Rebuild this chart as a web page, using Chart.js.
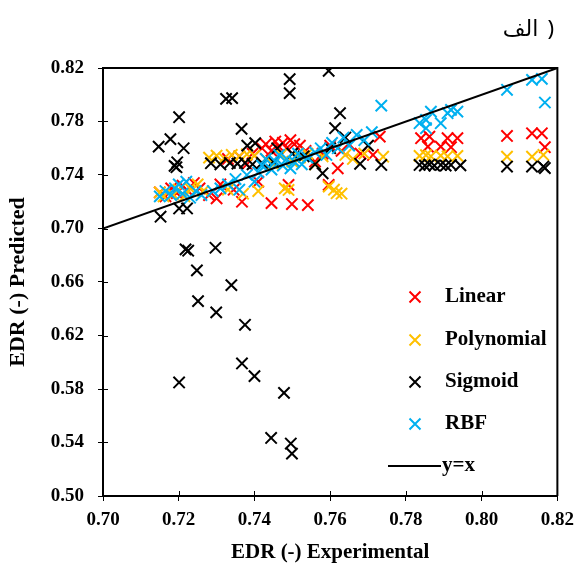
<!DOCTYPE html>
<html>
<head>
<meta charset="utf-8">
<script src="https://cdn.jsdelivr.net/npm/chart.js@4"></script>
<style>
  body { margin: 0; background: #fff; }
  #wrap { width: 582px; height: 565px; }
</style>
</head>
<body>
<div id="wrap"><canvas id="edrChart"></canvas></div>
<script>
// series names + colours (legend order)
var seriesNames = ['Linear', 'Polynomial', 'Sigmoid', 'RBF'];
var seriesColors = ['#FF0000', '#FFC000', '#000000', '#00B0F0'];

// [experimental, predicted]
var linearPts = [
  [0.7150,0.7270],[0.7165,0.7240],[0.7180,0.7300],[0.7195,0.7265],[0.7210,0.7320],[0.7225,0.7280],[0.7240,0.7340],[0.7255,0.7300],
  [0.7280,0.7250],[0.7300,0.7225],[0.7310,0.7330],[0.7330,0.7520],[0.7345,0.7290],[0.7360,0.7540],[0.7367,0.7200],[0.7380,0.7480],[0.7395,0.7560],[0.7410,0.7350],
  [0.7420,0.7600],[0.7430,0.7630],[0.7445,0.7580],[0.7455,0.7650],[0.7465,0.7610],[0.7475,0.7640],[0.7485,0.7600],[0.7495,0.7660],[0.7505,0.7630],[0.7520,0.7620],[0.7535,0.7580],
  [0.7445,0.7190],[0.7499,0.7183],[0.7541,0.7175],[0.7490,0.7326],[0.7596,0.7326],
  [0.7560,0.7500],[0.7580,0.7560],[0.7600,0.7620],[0.7620,0.7450],[0.7630,0.7580],[0.7650,0.7630],[0.7680,0.7560],[0.7713,0.7550],[0.7731,0.7687],
  [0.7840,0.7675],[0.7858,0.7612],[0.7862,0.7687],[0.7892,0.7612],[0.7910,0.7675],[0.7919,0.7608],[0.7936,0.7675],
  [0.8067,0.7692],[0.8133,0.7712],[0.8159,0.7712],[0.8167,0.7608]
];
var polyPts = [
  [0.7150,0.7270],[0.7160,0.7240],[0.7185,0.7255],[0.7200,0.7290],[0.7215,0.7240],[0.7230,0.7300],[0.7250,0.7330],[0.7265,0.7280],
  [0.7280,0.7530],[0.7300,0.7545],[0.7320,0.7525],[0.7340,0.7550],[0.7360,0.7540],[0.7380,0.7555],[0.7400,0.7545],
  [0.7330,0.7290],[0.7370,0.7260],[0.7410,0.7280],
  [0.7430,0.7520],[0.7450,0.7480],[0.7470,0.7550],[0.7480,0.7300],[0.7490,0.7288],[0.7500,0.7500],[0.7520,0.7530],[0.7540,0.7560],
  [0.7560,0.7480],[0.7580,0.7540],[0.7596,0.7313],[0.7610,0.7290],[0.7617,0.7264],[0.7630,0.7260],[0.7640,0.7550],[0.7660,0.7520],[0.7690,0.7560],[0.7740,0.7537],
  [0.7836,0.7543],[0.7853,0.7548],[0.7866,0.7540],[0.7892,0.7545],[0.7910,0.7540],[0.7936,0.7543],
  [0.8067,0.7537],[0.8133,0.7537],[0.8163,0.7550]
];
var sigmoidPts = [
  [0.7152,0.7088],[0.7201,0.7150],[0.7222,0.7150],[0.7218,0.6844],[0.7225,0.6834],[0.7297,0.6856],[0.7248,0.6687],[0.7339,0.6577],
  [0.7251,0.6457],[0.7299,0.6373],[0.7375,0.6280],[0.7367,0.5991],[0.7400,0.5896],[0.7201,0.5849],[0.7478,0.5771],
  [0.7444,0.5434],[0.7496,0.5392],[0.7499,0.5317],
  [0.7325,0.7969],[0.7341,0.7975],[0.7201,0.7832],[0.7366,0.7745],[0.7178,0.7668],[0.7147,0.7612],[0.7213,0.7600],
  [0.7196,0.7495],[0.7194,0.7458],[0.7189,0.7468],[0.7381,0.7620],[0.7402,0.7638],
  [0.7596,0.8179],[0.7493,0.8117],[0.7493,0.8012],[0.7626,0.7862],[0.7613,0.7750],
  [0.7285,0.7488],[0.7310,0.7480],[0.7335,0.7490],[0.7355,0.7485],[0.7375,0.7490],[0.7395,0.7480],[0.7420,0.7490],[0.7450,0.7500],
  [0.7460,0.7600],[0.7500,0.7560],[0.7530,0.7540],[0.7560,0.7480],[0.7580,0.7413],[0.7600,0.7600],[0.7640,0.7680],[0.7679,0.7484],[0.7735,0.7475],[0.7700,0.7620],
  [0.7836,0.7475],[0.7850,0.7470],[0.7862,0.7478],[0.7875,0.7470],[0.7892,0.7475],[0.7905,0.7470],[0.7919,0.7475],[0.7944,0.7472],
  [0.8067,0.7463],[0.8133,0.7463],[0.8163,0.7463],[0.8167,0.7452]
];
var rbfPts = [
  [0.7150,0.7240],[0.7165,0.7280],[0.7180,0.7250],[0.7190,0.7300],[0.7200,0.7330],[0.7210,0.7260],[0.7220,0.7350],[0.7230,0.7230],[0.7245,0.7280],[0.7260,0.7250],
  [0.7290,0.7280],[0.7310,0.7300],[0.7330,0.7330],[0.7350,0.7370],[0.7360,0.7290],[0.7380,0.7400],[0.7400,0.7350],[0.7410,0.7420],
  [0.7420,0.7470],[0.7430,0.7520],[0.7445,0.7440],[0.7455,0.7500],[0.7465,0.7550],[0.7475,0.7470],[0.7485,0.7520],[0.7495,0.7450],
  [0.7505,0.7500],[0.7515,0.7560],[0.7525,0.7480],[0.7540,0.7530],
  [0.7560,0.7570],[0.7575,0.7600],[0.7590,0.7550],[0.7605,0.7640],[0.7620,0.7600],[0.7635,0.7680],[0.7650,0.7620],[0.7670,0.7700],[0.7690,0.7660],[0.7710,0.7720],[0.7735,0.7919],
  [0.7836,0.7787],[0.7853,0.7812],[0.7866,0.7874],[0.7853,0.7750],[0.7892,0.7787],[0.7910,0.7862],[0.7919,0.7887],[0.7936,0.7874],
  [0.8067,0.8037],[0.8133,0.8111],[0.8159,0.8119],[0.8167,0.7942]
];
var identityLine = [0.70, 0.82];

var xTicks = [0.70, 0.72, 0.74, 0.76, 0.78, 0.80, 0.82];
var yTicks = [0.50, 0.54, 0.58, 0.62, 0.66, 0.70, 0.74, 0.78, 0.82];

var serif = "'Liberation Serif', 'Times New Roman', serif";

function toXY(pts) {
    return pts.map(function (p) { return { x: p[0], y: p[1] }; });
}

var allSeries = [linearPts, polyPts, sigmoidPts, rbfPts];
var datasets = allSeries.map(function (pts, i) {
    return {
        type: 'scatter',
        label: seriesNames[i],
        data: toXY(pts),
        pointStyle: 'crossRot',
        pointRadius: 8,
        pointHoverRadius: 8,
        borderColor: seriesColors[i],
        backgroundColor: seriesColors[i],
        pointBorderWidth: 2,
        order: 4 - i
    };
});
datasets.push({
    type: 'line',
    label: 'y=x',
    data: identityLine.map(function (v) { return { x: v, y: v }; }),
    borderColor: '#000',
    borderWidth: 2,
    pointRadius: 0,
    order: 0
});

// frame, inner tick marks, title and the legend inside the plot
var extras = {
    id: 'extras',
    afterDraw: function (chart) {
        var ctx = chart.ctx, a = chart.chartArea;
        var xs = chart.scales.x, ys = chart.scales.y;
        ctx.save();
        ctx.strokeStyle = '#000';
        ctx.lineWidth = 2;
        ctx.beginPath();
        ctx.moveTo(a.left, a.top);
        ctx.lineTo(a.right, a.top);
        ctx.lineTo(a.right, a.bottom);
        ctx.stroke();

        ctx.lineWidth = 1;
        ctx.beginPath();
        xTicks.forEach(function (t) {
            var px = Math.round(xs.getPixelForValue(t)) + 0.5;
            ctx.moveTo(px, a.bottom);
            ctx.lineTo(px, a.bottom - 5);
        });
        yTicks.forEach(function (t) {
            var py = Math.round(ys.getPixelForValue(t)) + 0.5;
            ctx.moveTo(a.left, py);
            ctx.lineTo(a.left + 5, py);
        });
        ctx.stroke();

        // title: bracket drawn on its own so it stays at the right end
        ctx.direction = 'ltr';
        ctx.fillStyle = '#000';
        ctx.font = "22px 'Noto Sans', 'DejaVu Sans', sans-serif";
        ctx.textAlign = 'right';
        ctx.textBaseline = 'middle';
        ctx.fillText(')', 554, 30);
        var bw = ctx.measureText(')').width;
        ctx.fillText('الف', 554 - bw - 9, 30);

        // legend
        ctx.font = 'bold 21px ' + serif;
        ctx.textAlign = 'left';
        var rowsY = [297, 340, 382, 424];
        seriesNames.forEach(function (name, i) {
            var cx = 415, cy = rowsY[i], r = 5.5;
            ctx.strokeStyle = seriesColors[i];
            ctx.lineWidth = 2;
            ctx.beginPath();
            ctx.moveTo(cx - r, cy - r); ctx.lineTo(cx + r, cy + r);
            ctx.moveTo(cx - r, cy + r); ctx.lineTo(cx + r, cy - r);
            ctx.stroke();
            ctx.fillText(name, 445, cy);
        });
        ctx.strokeStyle = '#000';
        ctx.lineWidth = 2;
        ctx.beginPath();
        ctx.moveTo(388, 466); ctx.lineTo(441, 466);
        ctx.stroke();
        ctx.fillText('y=x', 442, 466);
        ctx.restore();
    }
};

var ctx = document.getElementById('edrChart').getContext('2d');
var edrChart = new Chart(ctx, {
    type: 'scatter',
    data: { datasets: datasets },
    plugins: [extras],
    options: {
        responsive: true,
        maintainAspectRatio: false,
        animation: false,
        layout: { padding: { top: 68, right: 21, left: 0, bottom: 0 } },
        plugins: {
            legend: { display: false },
            tooltip: { enabled: false }
        },
        scales: {
            x: {
                type: 'linear',
                min: 0.70,
                max: 0.82,
                afterBuildTicks: function (s) { s.ticks = xTicks.map(function (v) { return { value: v }; }); },
                afterFit: function (s) { s.height = 69; },
                grid: { drawOnChartArea: false, tickLength: 5, color: '#000', tickWidth: 1 },
                border: { color: '#000', width: 2 },
                ticks: {
                    color: '#000',
                    padding: 8,
                    maxRotation: 0,
                    font: { family: serif, size: 19, weight: 'bold' },
                    callback: function (v) { return v.toFixed(2); }
                },
                title: {
                    display: true,
                    text: 'EDR (-) Experimental',
                    color: '#000',
                    padding: { top: 8, bottom: 0 },
                    font: { family: serif, size: 21, weight: 'bold' }
                }
            },
            y: {
                type: 'linear',
                min: 0.50,
                max: 0.82,
                afterBuildTicks: function (s) { s.ticks = yTicks.map(function (v) { return { value: v }; }); },
                afterFit: function (s) { s.width = 103; },
                grid: { drawOnChartArea: false, tickLength: 5, color: '#000', tickWidth: 1 },
                border: { color: '#000', width: 2 },
                ticks: {
                    color: '#000',
                    padding: 14,
                    font: { family: serif, size: 19, weight: 'bold' },
                    callback: function (v) { return v.toFixed(2); }
                },
                title: {
                    display: true,
                    text: 'EDR (-) Predicted',
                    color: '#000',
                    padding: { top: 5, bottom: 0 },
                    font: { family: serif, size: 22, weight: 'bold' }
                }
            }
        }
    }
});
</script>
</body>
</html>
